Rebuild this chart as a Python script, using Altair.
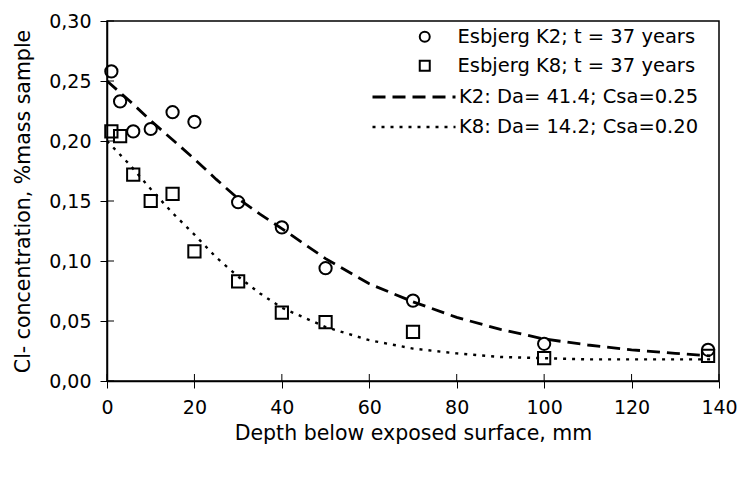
import altair as alt
import pandas as pd

# Observed chloride profiles (depth in mm, % of sample mass)
depth = [1, 3, 6, 10, 15, 20, 30, 40, 50, 70, 100, 137.5]
k2_obs = [0.258, 0.233, 0.208, 0.210, 0.224, 0.216, 0.149, 0.128, 0.094, 0.067, 0.031, 0.026]
k8_obs = [0.208, 0.204, 0.172, 0.150, 0.156, 0.108, 0.083, 0.057, 0.049, 0.041, 0.019, 0.021]

# Fitted profiles
fit_depth = [0, 5, 10, 15, 20, 25, 30, 35, 40, 50, 60, 70, 80, 90, 100, 110, 120, 130, 138]
k2_fit = [0.250, 0.234, 0.217, 0.201, 0.185, 0.168, 0.152, 0.139, 0.127, 0.102, 0.081,
          0.066, 0.053, 0.043, 0.035, 0.030, 0.026, 0.023, 0.021]
k8_fit = [0.200, 0.181, 0.160, 0.140, 0.122, 0.103, 0.087, 0.073, 0.061, 0.045, 0.034,
          0.027, 0.023, 0.020, 0.019, 0.018, 0.018, 0.018, 0.018]

obs_names = ["Esbjerg K2; t = 37 years", "Esbjerg K8; t = 37 years"]
fit_names = ["K2: Da= 41.4; Csa=0.25", "K8: Da= 14.2; Csa=0.20"]

x_ticks = [0, 20, 40, 60, 80, 100, 120, 140]
y_ticks = [0.0, 0.05, 0.10, 0.15, 0.20, 0.25, 0.30]

obs = pd.DataFrame(
    {"depth": depth * 2, "conc": k2_obs + k8_obs,
     "series": [obs_names[0]] * len(depth) + [obs_names[1]] * len(depth)}
)
fit_k2 = pd.DataFrame({"depth": fit_depth, "conc": k2_fit, "series": fit_names[0]})
fit_k8 = pd.DataFrame({"depth": fit_depth, "conc": k8_fit, "series": fit_names[1]})
xt = pd.DataFrame({"depth": x_ticks})
yt = pd.DataFrame({"conc": y_ticks})

FONT = "DejaVu Sans"
W, H = 612, 360

xs = alt.Scale(domain=[0, 140], nice=False, zero=False)
ys = alt.Scale(domain=[0, 0.30], nice=False, zero=False)

x_axis = alt.Axis(values=x_ticks, title="Depth below exposed surface, mm", grid=False,
                  tickSize=7, labelPadding=10, titlePadding=6, labelFlush=False)
y_axis = alt.Axis(values=y_ticks, title="Cl- concentration, %mass sample", grid=False,
                  tickSize=7, labelPadding=9, titlePadding=15,
                  labelExpr="replace(format(datum.value, '.2f'), '.', ',')")

X = alt.X("depth:Q", scale=xs, axis=x_axis)
Y = alt.Y("conc:Q", scale=ys, axis=y_axis)


def fit_layer(df, name, dash, width, legend_y):
    return alt.Chart(df).mark_line(color="black", strokeWidth=width).encode(
        x=X,
        y=Y,
        strokeDash=alt.StrokeDash(
            "series:N",
            scale=alt.Scale(domain=[name], range=[dash]),
            legend=alt.Legend(title=None, orient="none", legendX=264, legendY=legend_y,
                              symbolType="stroke", symbolSize=6889, symbolStrokeWidth=width,
                              symbolStrokeColor="black", labelOffset=2, padding=0),
        ),
    )


line_k2 = fit_layer(fit_k2, fit_names[0], [13, 7], 2.8, 33)
line_k8 = fit_layer(fit_k8, fit_names[1], [3, 6], 2.4, 63)

points = alt.Chart(obs).mark_point(filled=False, color="black", strokeWidth=2, size=150,
                                   opacity=1).encode(
    x=X,
    y=Y,
    shape=alt.Shape(
        "series:N",
        scale=alt.Scale(domain=obs_names, range=["circle", "square"]),
        legend=alt.Legend(title=None, orient="none", legendX=308, legendY=6,
                          symbolStrokeColor="black", symbolFillColor="transparent",
                          symbolStrokeWidth=2, symbolSize=100, symbolOpacity=1,
                          labelOffset=23, rowPadding=8, padding=0),
    ),
)

# inward halves of the crossing tick marks
x_inner = alt.Chart(xt).mark_rule(color="black", strokeWidth=1).encode(
    x=X, y=alt.value(H - 7), y2=alt.value(H)
)
y_inner = alt.Chart(yt).mark_rule(color="black", strokeWidth=1).encode(
    y=Y, x=alt.value(0), x2=alt.value(7)
)

chart = (
    alt.layer(line_k2, line_k8, points, x_inner, y_inner)
    .resolve_scale(shape="independent", strokeDash="independent")
    .properties(width=W, height=H, autosize="none",
                padding={"left": 107, "top": 21, "right": 22, "bottom": 100})
    .configure_view(stroke="black", strokeWidth=1.5)
    .configure_axis(domainColor="black", domainWidth=1.5, tickColor="black", tickWidth=1,
                    labelFont=FONT, titleFont=FONT, labelFontSize=19, titleFontSize=20.5,
                    labelColor="black", titleColor="black", titleFontWeight="normal")
    .configure_legend(labelFont=FONT, labelFontSize=19.5, labelColor="black", labelLimit=400)
)

chart.save("out.html", embed_options={"renderer": "svg", "actions": False})
